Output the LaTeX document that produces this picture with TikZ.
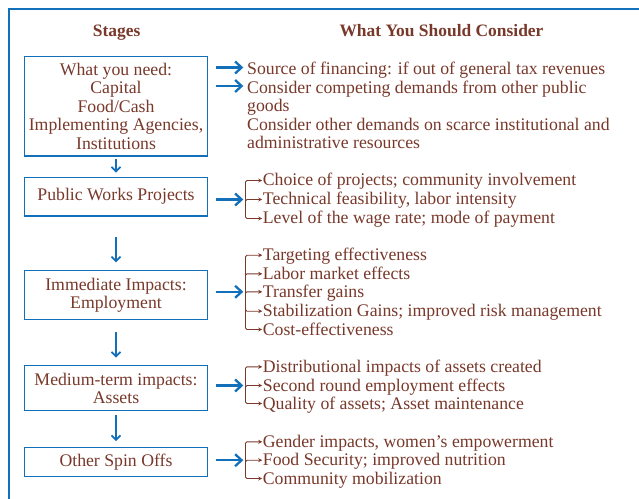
\documentclass[tikz,border=0pt]{standalone}
\usepackage{fontspec}
\setmainfont{Liberation Serif}
\usetikzlibrary{arrows.meta}

\definecolor{frameblue}{RGB}{18,112,186}
\definecolor{textbrown}{RGB}{120,56,42}

\tikzset{
  every node/.style={font=\fontsize{17.8}{18.6}\selectfont, text=textbrown},
  head/.style={anchor=base, inner sep=0pt, font=\fontsize{17.5}{18.6}\selectfont\bfseries},
  stagebox/.style={draw=frameblue, line width=1.4bp, minimum width=182.6bp,
                   align=center, inner sep=0pt},
  item/.style={anchor=base west, inner sep=0pt},
  bluearrow/.style={draw=frameblue, line width=2.3bp,
                    -{Straight Barb[length=6.5bp,width=12bp,line width=2.3bp]}},
  downarrow/.style={draw=frameblue, line width=1.7bp,
                    -{Straight Barb[length=4.5bp,width=9bp,line width=1.7bp]}},
  twig/.style={draw=textbrown, line width=0.9bp, rounded corners=1.5bp,
               -{Stealth[length=4bp,width=4bp]}, shorten >=0.5bp}
}

\begin{document}
\begin{tikzpicture}[x=1bp,y=-1bp]
\useasboundingbox (0,0) rectangle (639,499);

% Drawing the frame
\draw [frameblue, line width=2.2bp] (9,499) -- (9,9) -- (639,9);

% Column heads
\node [head] (hstage) at (116.7,36.7) {Stages};
\node [head] (hcons) at (441.5,36.7) {What You Should Consider};

% Stage boxes
\node [stagebox, minimum height=99.3bp] (s1) at (116,106.4)
  {What you need:\\Capital\\Food/Cash\\Implementing Agencies,\\Institutions};
\node [stagebox, minimum height=38.7bp] (s2) at (116,196.7) {Public Works Projects};
\node [stagebox, minimum height=48.6bp, font=\fontsize{17.8}{17.7}\selectfont] (s3) at (116,295)
  {Immediate Impacts:\\Employment};
\node [stagebox, minimum height=45bp, font=\fontsize{17.8}{17.7}\selectfont] (s4) at (116,388.2)
  {Medium-term impacts:\\Assets};
\node [stagebox, minimum height=29.4bp] (s5) at (116,462) {Other Spin Offs};

% Drawing arrows down the stages
\draw [downarrow, shorten <=2.3bp, shorten >=4bp] (s1.south) -- (s2.north);
\draw [downarrow, shorten <=20bp, shorten >=7.7bp] (s2.south) -- (s3.north);
\draw [downarrow, shorten <=12.4bp, shorten >=7.4bp] (s3.south) -- (s4.north);
\draw [downarrow, shorten <=3.3bp, shorten >=5.6bp] (s4.south) -- (s5.north);

% What you need: considerations
\node [item] (c11) at (247,75) {Source of financing: if out of general tax revenues};
\node [item] (c12) at (247,93.5) {Consider competing demands from other public};
\node [item] (c12b) at (247,112) {goods};
\node [item] (c13) at (247,130.5) {Consider other demands on scarce institutional and};
\node [item] (c13b) at (247,149) {administrative resources};
\coordinate (p11) at (247,67.5);
\coordinate (p12) at (247,86);
\draw [bluearrow, shorten <=7.7bp, shorten >=3.7bp] (s1.east |- p11) -- (p11);
\draw [bluearrow, shorten <=7.7bp, shorten >=3.7bp] (s1.east |- p12) -- (p12);

% Public works considerations
\node [item] (c21) at (262.7,186) {Choice of projects; community involvement};
\node [item] (c22) at (262.7,205) {Technical feasibility, labor intensity};
\node [item] (c23) at (262.7,224) {Level of the wage rate; mode of payment};
\coordinate (brk2) at (245.5,199.5);
\draw [bluearrow, shorten <=7.7bp, shorten >=2.2bp] (s2.east |- brk2) -- (brk2);
\draw [twig] (brk2) |- ([yshift=5.5bp]c21.base west);
\draw [twig] (brk2) |- ([yshift=5.5bp]c22.base west);
\draw [twig] (brk2) |- ([yshift=5.5bp]c23.base west);

% Immediate impacts considerations
\node [item] (c31) at (262.7,260.7) {Targeting effectiveness};
\node [item] (c32) at (262.7,279.3) {Labor market effects};
\node [item] (c33) at (262.7,297.3) {Transfer gains};
\node [item] (c34) at (262.7,316.7) {Stabilization Gains; improved risk management};
\node [item] (c35) at (262.7,335) {Cost-effectiveness};
\coordinate (brk3) at (245.5,291.8);
\draw [bluearrow, shorten <=7.7bp, shorten >=2.2bp] (s3.east |- brk3) -- (brk3);
\draw [twig] (brk3) |- ([yshift=5.5bp]c31.base west);
\draw [twig] (brk3) |- ([yshift=5.5bp]c32.base west);
\draw [twig] (brk3) |- ([yshift=5.5bp]c33.base west);
\draw [twig] (brk3) |- ([yshift=5.5bp]c34.base west);
\draw [twig] (brk3) |- ([yshift=5.5bp]c35.base west);

% Medium-term impacts considerations
\node [item] (c41) at (262.7,372.3) {Distributional impacts of assets created};
\node [item] (c42) at (262.7,391) {Second round employment effects};
\node [item] (c43) at (262.7,409) {Quality of assets; Asset maintenance};
\coordinate (brk4) at (245.5,385.5);
\draw [bluearrow, shorten <=7.7bp, shorten >=2.2bp] (s4.east |- brk4) -- (brk4);
\draw [twig] (brk4) |- ([yshift=5.5bp]c41.base west);
\draw [twig] (brk4) |- ([yshift=5.5bp]c42.base west);
\draw [twig] (brk4) |- ([yshift=5.5bp]c43.base west);

% Spin off considerations
\node [item] (c51) at (262.7,447.3) {Gender impacts, women's empowerment};
\node [item] (c52) at (262.7,465.7) {Food Security; improved nutrition};
\node [item] (c53) at (262.7,484) {Community mobilization};
\coordinate (brk5) at (245.5,460.2);
\draw [bluearrow, shorten <=7.7bp, shorten >=2.2bp] (s5.east |- brk5) -- (brk5);
\draw [twig] (brk5) |- ([yshift=5.5bp]c51.base west);
\draw [twig] (brk5) |- ([yshift=5.5bp]c52.base west);
\draw [twig] (brk5) |- ([yshift=5.5bp]c53.base west);
\end{tikzpicture}
\end{document}
